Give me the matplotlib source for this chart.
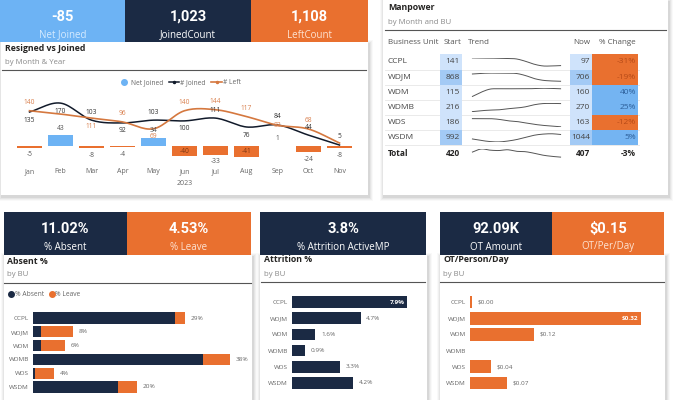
import numpy as np
import matplotlib
matplotlib.use('Agg')
import matplotlib.pyplot as plt
from matplotlib.patches import Rectangle
from matplotlib.lines import Line2D

# values
MONTHS = ['Jan', 'Feb', 'Mar', 'Apr', 'May', 'Jun', 'Jul', 'Aug', 'Sep', 'Oct', 'Nov']
JOINED = [135, 170, 103, 92, 103, 100, 111, 76, 84, 44, 5]
LEFT = [140, 127, 111, 96, 69, 140, 144, 117, 83, 68, 13]
NET_JOINED = [-5, 43, -8, -4, 34, -40, -33, -41, 1, -24, -8]

TOP_KPI_VALUES = ['-85', '1,023', '1,108']
TOP_KPI_LABELS = ['Net Joined', 'JoinedCount', 'LeftCount']

BU = ['CCPL', 'WDJM', 'WDM', 'WDMB', 'WDS', 'WSDM']
MP_START = [141, 868, 115, 216, 186, 992]
MP_NOW = [97, 706, 160, 270, 163, 1044]
MP_CHANGE = [-31, -19, 40, 25, -12, 5]
MP_TOTAL_START = 420
MP_TOTAL_NOW = 407
MP_TOTAL_CHANGE = -3
MP_TREND = [
    [141, 140, 140, 139, 138, 135, 122, 105, 95, 95, 97],
    [850, 862, 868, 866, 866, 860, 820, 760, 725, 712, 706],
    [115, 140, 158, 160, 160, 160, 160, 161, 163, 162, 160],
    [216, 222, 226, 228, 235, 240, 248, 262, 270, 271, 270],
    [186, 186, 186, 184, 180, 178, 174, 170, 167, 165, 163],
    [992, 975, 962, 958, 968, 985, 1010, 1035, 1048, 1052, 1044],
    [420, 428, 425, 424, 426, 422, 421, 417, 412, 409, 407],
]

ABSENT = [27.1, 1.5, 1.5, 32.4, 0.4, 16.2]
LEAVE = [1.9, 6.2, 4.6, 5.2, 3.6, 3.6]
ATTRITION = [7.9, 4.7, 1.6, 0.9, 3.3, 4.2]
OT_PER_DAY = [0.004, 0.32, 0.12, 0.0, 0.04, 0.07]

BOTTOM_KPI_VALUES = ['11.02%', '4.53%', '3.8%', '92.09K', '$0.15']
BOTTOM_KPI_LABELS = ['% Absent', '% Leave', '% Attrition ActiveMP', 'OT Amount', 'OT/Per/Day']

NAVY = '#1b2a44'
ORANGE = '#e9702f'
LBLUE = '#6db3f4'
LINE_ORANGE = '#d5783f'
CELL_LIGHT = '#cfe3fb'
CELL_MID = '#a3caf5'

plt.rcParams['font.family'] = ['Open Sans', 'DejaVu Sans']

W, H = 680, 400
fig = plt.figure(figsize=(6.8, 4.0), dpi=100)
fig.patch.set_facecolor('white')

# background canvas in pixel coordinates (tiles, panels, titles)
canvas = fig.add_axes([0, 0, 1, 1])
canvas.set_xlim(0, W)
canvas.set_ylim(H, 0)
canvas.axis('off')
canvas.set_zorder(-5)


def px_axes(x0, y0, x1, y1):
    ax = fig.add_axes([x0 / W, 1 - y1 / H, (x1 - x0) / W, (y1 - y0) / H])
    ax.patch.set_alpha(0)
    return ax


def rect(x0, y0, x1, y1, color, **kw):
    canvas.add_patch(Rectangle((x0, y0), x1 - x0, y1 - y0, facecolor=color,
                               edgecolor='none', **kw))


def panel(x0, y0, x1, y1):
    for d, a in ((4, .025), (3, .035), (2, .045), (1, .06)):
        rect(x0 - d + 1, y0 - d + 2, x1 + d + 1, y1 + d + 2, 'black', alpha=a)
    rect(x0, y0, x1, y1, 'white')


def tile(x0, y0, x1, y1, color, value, label, label_color='white'):
    rect(x0, y0, x1, y1, color)
    cx = (x0 + x1) / 2
    canvas.text(cx, y0 + 17, value, ha='center', va='center', color='white',
                fontsize=10.5, fontweight='bold', family='Roboto')
    canvas.text(cx, y0 + 35, label, ha='center', va='center', color=label_color,
                fontsize=7)


def header(x0, x1, y0, title, subtitle):
    canvas.text(x0 + 3, y0 + 6, title, ha='left', va='center', fontsize=6.3,
                fontweight='bold', color='#252423')
    canvas.text(x0 + 3, y0 + 20, subtitle, ha='left', va='center', fontsize=5.6,
                color='#8a8a8a')
    canvas.plot([x0, x1], [y0 + 28, y0 + 28], color='#555555', lw=0.8)


def smooth(y, n=16):
    y = np.asarray(y, float)
    m = np.gradient(y)
    t = np.linspace(0, 1, n)
    h00 = 2 * t**3 - 3 * t**2 + 1
    h10 = t**3 - 2 * t**2 + t
    h01 = -2 * t**3 + 3 * t**2
    h11 = t**3 - t**2
    xs, ys = [], []
    for i in range(len(y) - 1):
        xs.append(i + t)
        ys.append(h00 * y[i] + h10 * m[i] + h01 * y[i + 1] + h11 * m[i + 1])
    return np.concatenate(xs), np.concatenate(ys)


# ---------------- panels and tiles ----------------
panel(1, 42, 368, 195)
panel(383, 0, 668, 195)
panel(4, 255, 252, 405)
panel(260, 255, 427, 405)
panel(440, 255, 665, 405)

tile(0, 0, 125, 42, LBLUE, TOP_KPI_VALUES[0], TOP_KPI_LABELS[0], '#d6ebff')
tile(125, 0, 251, 42, NAVY, TOP_KPI_VALUES[1], TOP_KPI_LABELS[1])
tile(251, 0, 368, 42, ORANGE, TOP_KPI_VALUES[2], TOP_KPI_LABELS[2], '#fde3d3')

tile(4, 212, 127, 255, NAVY, BOTTOM_KPI_VALUES[0], BOTTOM_KPI_LABELS[0])
tile(127, 212, 251, 255, ORANGE, BOTTOM_KPI_VALUES[1], BOTTOM_KPI_LABELS[1], '#fde3d3')
tile(260, 212, 426, 255, NAVY, BOTTOM_KPI_VALUES[2], BOTTOM_KPI_LABELS[2])
tile(440, 212, 552, 255, NAVY, BOTTOM_KPI_VALUES[3], BOTTOM_KPI_LABELS[3])
tile(552, 212, 664, 255, ORANGE, BOTTOM_KPI_VALUES[4], BOTTOM_KPI_LABELS[4], '#fde3d3')

header(2, 366, 42, 'Resigned vs Joined', 'by Month & Year')
header(385, 666, 2, 'Manpower', 'by Month and BU')
header(4, 251, 255, 'Absent %', 'by BU')
header(261, 425, 254, 'Attrition %', 'by BU')
header(440, 664, 254, 'OT/Person/Day', 'by BU')

# ---------------- Resigned vs Joined ----------------
ax = px_axes(14, 90, 355, 165)
x = np.arange(len(MONTHS))
bar_colors = [LBLUE if v >= 0 else ORANGE for v in NET_JOINED]
ax.bar(x, NET_JOINED, width=0.8, color=bar_colors, zorder=1)
jx, jy = smooth(JOINED)
lx, ly = smooth(LEFT)
ax.plot(jx, jy, color='#111a2a', lw=1.1, zorder=2)
ax.plot(lx, ly, color=LINE_ORANGE, lw=1.2, zorder=3)
ax.set_xlim(-0.5, len(MONTHS) - 0.5)
ax.set_ylim(-73.6, 221.6)
ax.set_xticks(x)
ax.set_xticklabels(MONTHS, fontsize=5, color='#666666')
ax.set_yticks([])
ax.tick_params(axis='x', length=0, pad=2.5)
for s in ax.spines.values():
    s.set_visible(False)
ax.annotate('2023', xy=(5, 0), xycoords=('data', 'axes fraction'), xytext=(0, -13),
            textcoords='offset points', ha='center', va='center', fontsize=5,
            color='#666666')

JOIN_SIDE = [-1, -1, 1, -1, 1, -1, 1, -1, 1, 1, 1]
LEFT_SIDE = [1, None, -1, 1, -1, 1, 1, 1, 0, 1, None]
for i in range(len(MONTHS)):
    ax.annotate(str(JOINED[i]), (i, JOINED[i]), xytext=(0, 5.8 * JOIN_SIDE[i]),
                textcoords='offset points', ha='center', va='center', fontsize=4.8,
                color='#333333', zorder=4)
    if LEFT_SIDE[i] is not None:
        ax.annotate(str(LEFT[i]), (i, LEFT[i]), xytext=(0, 5.8 * LEFT_SIDE[i]),
                    textcoords='offset points', ha='center', va='center',
                    fontsize=4.8, color='#d9804f', zorder=4)
    v = NET_JOINED[i]
    if v <= -40:
        ax.annotate(str(v), (i, v / 2), ha='center', va='center', fontsize=4.8,
                    color='#7a3512', zorder=4)
    else:
        ax.annotate(str(v), (i, v), xytext=(0, 5.2 if v >= 0 else -5.2),
                    textcoords='offset points', ha='center', va='center',
                    fontsize=4.8, color='#555555', zorder=4)

handles = [Line2D([], [], marker='o', ls='none', color=LBLUE, markersize=4),
           Line2D([], [], color='#111a2a', lw=1.1, marker='o', markersize=1.5,
                  markevery=[1]),
           Line2D([], [], color=LINE_ORANGE, lw=1.2, marker='o', markersize=1.5,
                  markevery=[1])]
ax.legend(handles, ['Net Joined', '# Joined', '# Left'], ncol=3, frameon=False,
          loc='center', bbox_to_anchor=(180 / W, 1 - 83 / H),
          bbox_transform=fig.transFigure, fontsize=4.8, labelcolor='#666666',
          handlelength=1.6, handletextpad=0.2, columnspacing=0.8)

# ---------------- Manpower table ----------------
canvas.text(388, 42, 'Business Unit', ha='left', va='center', fontsize=5.8, color='#555555')
canvas.text(461, 42, 'Start', ha='right', va='center', fontsize=5.8, color='#555555')
canvas.text(468, 42, 'Trend', ha='left', va='center', fontsize=5.8, color='#555555')
canvas.text(590, 42, 'Now', ha='right', va='center', fontsize=5.8, color='#555555')
canvas.text(636, 42, '% Change', ha='right', va='center', fontsize=5.8, color='#555555')

tab = px_axes(385, 54.4, 640, 160.6)
tab.set_xlim(385, 640)
tab.set_ylim(len(BU) + 0.5, -0.5)
tab.axis('off')
rows = np.arange(len(BU))
tab.barh(rows, 22, left=440, height=1,
         color=[CELL_MID if v > 500 else CELL_LIGHT for v in MP_START])
tab.barh(rows, 22, left=570, height=1,
         color=[CELL_MID if v > 500 else CELL_LIGHT for v in MP_NOW])
tab.barh(rows, 46, left=592, height=1,
         color=[ORANGE if v < 0 else '#74b4f2' for v in MP_CHANGE])
for r in rows:
    tab.axhline(r + 0.5, xmin=0, xmax=1, color='#e6e6e6', lw=0.6, zorder=0)
for r, name in enumerate(BU):
    tab.text(388, r, name, ha='left', va='center', fontsize=6, color='#444444')
    tab.text(460, r, str(MP_START[r]), ha='right', va='center', fontsize=6, color='#444444')
    tab.text(590, r, str(MP_NOW[r]), ha='right', va='center', fontsize=6, color='#444444')
    tab.text(636, r, f'{MP_CHANGE[r]}%', ha='right', va='center', fontsize=6,
             color='#b64a17' if MP_CHANGE[r] < 0 else '#2d5f9a')
tr = len(BU)
tab.text(388, tr, 'Total', ha='left', va='center', fontsize=6, fontweight='bold', color='#252423')
tab.text(460, tr, str(MP_TOTAL_START), ha='right', va='center', fontsize=6, fontweight='bold', color='#252423')
tab.text(590, tr, str(MP_TOTAL_NOW), ha='right', va='center', fontsize=6, fontweight='bold', color='#252423')
tab.text(636, tr, f'{MP_TOTAL_CHANGE}%', ha='right', va='center', fontsize=6, fontweight='bold', color='#252423')

for r, trend in enumerate(MP_TREND):
    yc = 62 + r * 15.17
    sp = px_axes(468, yc - 4.5, 565, yc + 4.5)
    sx, sy = smooth(trend)
    sp.plot(sx, sy, color='#555555', lw=0.7)
    sp.axis('off')

# ---------------- bottom bar charts ----------------
def bar_axes(x0, y0, x1, y1, xmax):
    b = px_axes(x0, y0, x1, y1)
    b.set_ylim(len(BU) - 0.5, -0.5)
    b.set_xlim(0, xmax)
    b.set_yticks(np.arange(len(BU)))
    b.set_yticklabels(BU, fontsize=4.6, color='#666666')
    b.set_xticks([])
    b.tick_params(axis='y', length=0, pad=3)
    for s in b.spines.values():
        s.set_visible(False)
    return b


ab = bar_axes(33, 311.1, 250, 393.9, 41.4)
ab.barh(rows, ABSENT, height=0.8, color=NAVY)
ab.barh(rows, LEAVE, left=ABSENT, height=0.8, color=ORANGE)
for r in rows:
    tot = ABSENT[r] + LEAVE[r]
    ab.annotate(f'{tot:.0f}%', (tot, r), xytext=(4, 0), textcoords='offset points',
                ha='left', va='center', fontsize=4.6, color='#666666')
lh = [Line2D([], [], marker='o', ls='none', color=NAVY, markersize=4),
      Line2D([], [], marker='o', ls='none', color=ORANGE, markersize=4)]
ab.legend(lh, ['% Absent', '% Leave'], ncol=2, frameon=False, loc='center left',
          bbox_to_anchor=(4 / W, 1 - 295 / H), bbox_transform=fig.transFigure,
          fontsize=4.8, labelcolor='#666666', handlelength=0.8, handletextpad=0.1,
          columnspacing=0.8, borderpad=0.2)

at = bar_axes(292, 293.9, 425, 391.1, 9.1)
at.barh(rows, ATTRITION, height=0.72, color=NAVY)
top = int(np.argmax(ATTRITION))
for r in rows:
    if r == top:
        at.annotate(f'{ATTRITION[r]}%', (ATTRITION[r], r), xytext=(-2, 0),
                    textcoords='offset points', ha='right', va='center',
                    fontsize=4.6, color='white', fontweight='bold')
    else:
        at.annotate(f'{ATTRITION[r]}%', (ATTRITION[r], r), xytext=(4, 0),
                    textcoords='offset points', ha='left', va='center',
                    fontsize=4.6, color='#666666')

ot = bar_axes(470, 293.9, 665, 391.1, 0.365)
ot.barh(rows, OT_PER_DAY, height=0.78, color=ORANGE)
top = int(np.argmax(OT_PER_DAY))
for r in rows:
    v = OT_PER_DAY[r]
    if v == 0:
        continue
    if r == top:
        ot.annotate(f'${v:.2f}', (v, r), xytext=(-2, 0), textcoords='offset points',
                    ha='right', va='center', fontsize=4.6, color='white',
                    fontweight='bold')
    else:
        ot.annotate(f'${v:.2f}', (v, r), xytext=(4, 0), textcoords='offset points',
                    ha='left', va='center', fontsize=4.6, color='#666666')

fig.savefig('out.png', dpi=100, facecolor='white')
